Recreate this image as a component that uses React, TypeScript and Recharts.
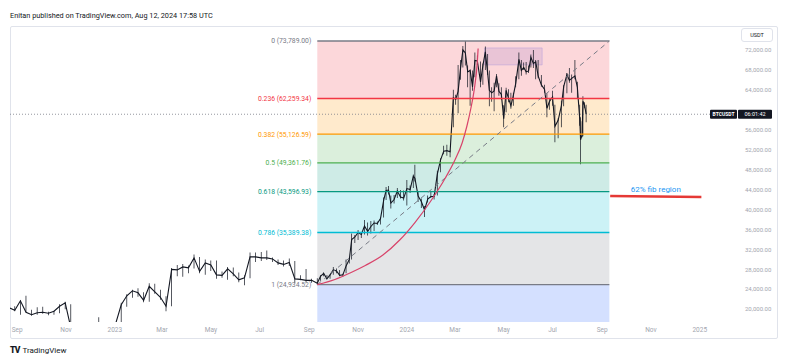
import React from "react";
import {
  Bar,
  ComposedChart,
  Line,
  ReferenceArea,
  ReferenceLine,
  XAxis,
  YAxis,
} from "recharts";

const DAY0 = Date.UTC(2023, 0, 1);
const toDay = (s: string) => (Date.parse(s + "T00:00:00Z") - DAY0) / 86400000;

// BTCUSDT (weekly to Sep 2023, then ~4 days)
const candleDates = [
  "2022-08-22", "2022-08-29", "2022-09-05", "2022-09-12", "2022-09-19", "2022-09-26", "2022-10-03", "2022-10-10", "2022-10-17", "2022-10-24",
  "2022-10-31", "2022-11-07", "2022-11-14", "2022-11-21", "2022-11-28", "2022-12-05", "2022-12-12", "2022-12-19", "2022-12-26", "2023-01-02",
  "2023-01-09", "2023-01-16", "2023-01-23", "2023-01-30", "2023-02-06", "2023-02-13", "2023-02-20", "2023-02-27", "2023-03-06", "2023-03-13",
  "2023-03-20", "2023-03-27", "2023-04-03", "2023-04-10", "2023-04-17", "2023-04-24", "2023-05-01", "2023-05-08", "2023-05-15", "2023-05-22",
  "2023-05-29", "2023-06-05", "2023-06-12", "2023-06-19", "2023-06-26", "2023-07-03", "2023-07-10", "2023-07-17", "2023-07-24", "2023-07-31",
  "2023-08-07", "2023-08-14", "2023-08-21", "2023-08-28", "2023-09-04", "2023-09-11", "2023-09-15", "2023-09-19", "2023-09-23", "2023-09-27",
  "2023-10-01", "2023-10-05", "2023-10-09", "2023-10-13", "2023-10-17", "2023-10-21", "2023-10-24", "2023-10-28", "2023-11-01", "2023-11-05",
  "2023-11-09", "2023-11-13", "2023-11-17", "2023-11-21", "2023-11-25", "2023-11-29", "2023-12-03", "2023-12-06", "2023-12-09", "2023-12-12",
  "2023-12-16", "2023-12-20", "2023-12-24", "2023-12-28", "2024-01-01", "2024-01-05", "2024-01-09", "2024-01-11", "2024-01-15", "2024-01-19",
  "2024-01-23", "2024-01-27", "2024-01-31", "2024-02-04", "2024-02-08", "2024-02-12", "2024-02-16", "2024-02-20", "2024-02-24", "2024-02-28",
  "2024-03-02", "2024-03-05", "2024-03-08", "2024-03-11", "2024-03-14", "2024-03-17", "2024-03-20", "2024-03-23", "2024-03-26", "2024-03-29",
  "2024-04-02", "2024-04-05", "2024-04-08", "2024-04-11", "2024-04-13", "2024-04-16", "2024-04-19", "2024-04-22", "2024-04-25", "2024-04-28",
  "2024-05-01", "2024-05-04", "2024-05-07", "2024-05-10", "2024-05-13", "2024-05-16", "2024-05-20", "2024-05-23", "2024-05-26", "2024-05-29",
  "2024-06-01", "2024-06-04", "2024-06-07", "2024-06-10", "2024-06-13", "2024-06-17", "2024-06-21", "2024-06-24", "2024-06-27", "2024-07-01",
  "2024-07-04", "2024-07-08", "2024-07-12", "2024-07-15", "2024-07-19", "2024-07-22", "2024-07-25", "2024-07-29", "2024-08-01", "2024-08-04",
  "2024-08-05", "2024-08-07", "2024-08-08", "2024-08-10", "2024-08-12",
];
const highs = [
  21800, 20600, 21800, 22700, 19900, 20400, 20500, 19500, 19700, 21000,
  21500, 21000, 17200, 16800, 17400, 17400, 18400, 17000, 16900, 17200,
  21300, 23000, 23900, 24200, 23400, 25200, 25100, 23900, 22600, 28300,
  28900, 29100, 28800, 31000, 30500, 30000, 29800, 29800, 27600, 28500,
  28400, 27400, 26800, 31400, 31400, 31500, 31800, 30400, 30000, 29800,
  30200, 29700, 26800, 28100, 26100, 26200, 26800, 27400, 26800, 27000,
  28500, 28200, 27900, 27100, 30000, 30300, 35200, 34900, 35900, 35300,
  37900, 37400, 37700, 37800, 37600, 38400, 42400, 44500, 44700, 42800,
  42900, 44300, 43900, 43800, 45900, 44800, 47000, 49000, 43500, 42200,
  40700, 42800, 43700, 43100, 47800, 50300, 52800, 53000, 51900, 64000,
  63000, 69000, 70000, 72800, 73800, 68900, 68100, 67900, 71500, 70900,
  69700, 69300, 72700, 71200, 67900, 64500, 65400, 67200, 65300, 64500,
  60900, 64400, 64100, 63400, 63400, 66700, 71500, 70000, 69500, 69600,
  68900, 71100, 72000, 70000, 70000, 67000, 65000, 63300, 62300, 63800,
  61000, 58300, 61800, 64900, 67400, 68400, 67100, 70000, 65600, 61000,
  58500, 57700, 62700, 61500, 61000,
];
const lows = [
  20100, 19600, 18900, 19400, 18700, 18900, 19100, 18800, 18900, 19200,
  20000, 15600, 16200, 15500, 16100, 16700, 16500, 16300, 16300, 16500,
  17100, 20500, 22300, 22500, 21400, 21500, 23100, 21900, 19600, 20600,
  26600, 26500, 27200, 28200, 27200, 26900, 27700, 26100, 26300, 25900,
  26600, 25400, 24800, 26200, 29500, 29700, 29900, 29500, 28900, 28600,
  28700, 25200, 25800, 25400, 25300, 24900, 25700, 26600, 26000, 26100,
  26900, 27200, 26600, 26500, 27200, 29200, 30000, 33300, 33900, 34300,
  35000, 34800, 35200, 35700, 36900, 37000, 38400, 41900, 43000, 40200,
  41200, 42300, 42200, 41800, 40800, 43300, 44300, 45600, 41500, 40300,
  38500, 41400, 42300, 42000, 42800, 47500, 51100, 50800, 50500, 56500,
  61000, 59300, 66000, 68500, 68900, 64500, 60800, 63800, 66500, 69000,
  64500, 65000, 68000, 67000, 60700, 61600, 59700, 64500, 62800, 62000,
  56500, 59500, 61500, 60200, 60800, 64500, 66100, 66800, 68000, 67100,
  67400, 68500, 68400, 66100, 66300, 64600, 63400, 58500, 60000, 60800,
  53500, 54300, 56500, 60700, 63300, 65400, 63400, 66100, 62300, 56800,
  49100, 54500, 54700, 60300, 57500,
];
const closes = [
  20300, 19800, 21700, 19400, 18900, 19300, 19400, 19200, 19600, 20600,
  21300, 16300, 16600, 16500, 17100, 17100, 16800, 16800, 16600, 17100,
  20900, 22700, 23700, 23300, 21800, 24600, 23500, 22400, 20600, 28000,
  27900, 28500, 28300, 30300, 27600, 29300, 28900, 26900, 26800, 28100,
  27100, 25900, 26300, 30500, 30500, 30300, 30300, 30100, 29300, 29000,
  29400, 26100, 26000, 25800, 25800, 25200, 26600, 27200, 26100, 26900,
  27900, 27700, 26800, 26900, 28700, 30000, 34000, 34500, 35400, 35000,
  36700, 35600, 36600, 37300, 37200, 38200, 41900, 43800, 43900, 41300,
  42000, 43700, 42500, 42300, 44200, 44000, 46700, 46300, 42700, 41600,
  39900, 42100, 42600, 42600, 47100, 49900, 51700, 51800, 51600, 62400,
  62100, 63700, 68300, 72000, 71400, 67600, 67900, 64600, 69900, 69800,
  65600, 68900, 71600, 67200, 63900, 63400, 63800, 66800, 63700, 63100,
  58200, 63900, 62300, 60800, 62900, 65300, 70100, 67900, 68500, 67600,
  67800, 70500, 69300, 69600, 66800, 65000, 64100, 60300, 61600, 62600,
  56700, 57900, 60800, 64700, 67100, 65900, 66300, 66800, 64500, 58100,
  54000, 55000, 61700, 60900, 59100,
];

// fib retracement drawn from the Sep 2023 low to the Mar 2024 high
const fibRatios = [0, 0.236, 0.382, 0.5, 0.618, 0.786, 1];
const fibPrices = [73789.0, 62259.34, 55126.59, 49361.76, 43596.93, 35389.38, 24934.52];
const fibColors = ["#787b86", "#f23645", "#ff9800", "#4caf50", "#089981", "#00bcd4", "#787b86"];
const fibExtColor = "#2962ff";
const fibStart = "2023-09-11";
const fibEnd = "2024-09-10";

// curved drawing
const arcDates = [
  "2023-09-11", "2023-10-03", "2023-10-22", "2023-11-10", "2023-12-02", "2023-12-23", "2024-01-11", "2024-01-30",
  "2024-02-18", "2024-03-01", "2024-03-10", "2024-03-16", "2024-03-21", "2024-03-25", "2024-03-29", "2024-03-30",
];
const arcPrices = [
  24934, 25970, 27280, 28780, 30880, 33890, 37400, 41510,
  46320, 49930, 53340, 56750, 60360, 63900, 69600, 72300,
];

// purple box and the "62% fib region" note
const boxDates = ["2024-04-07", "2024-06-18"];
const boxPrices = [69000, 72400];
const noteDates = ["2024-09-11", "2025-01-03"];
const notePrices = [42720, 42520];
const noteText = "62% fib region";

const lastPrice = 59107;
const symbol = "BTCUSDT";
const countdown = "06:01:42";

const monthTicks = [
  "2022-09-01", "2022-11-01", "2023-01-01", "2023-03-01", "2023-05-01", "2023-07-01", "2023-09-01", "2023-11-01",
  "2024-01-01", "2024-03-01", "2024-05-01", "2024-07-01", "2024-09-01", "2024-11-01", "2025-01-01",
];
const monthLabels = ["Sep", "Nov", "2023", "Mar", "May", "Jul", "Sep", "Nov", "2024", "Mar", "May", "Jul", "Sep", "Nov", "2025"];
const priceTicks = [20000, 24000, 28000, 32000, 36000, 40000, 44000, 48000, 52000, 56000, 64000, 68000, 72000];

const X_DOMAIN: [number, number] = [-131, 777.5];
const Y_DOMAIN: [number, number] = [17450, 76800];

const candles = candleDates.map((d, i) => ({
  t: toDay(d),
  close: closes[i],
  range: [lows[i], highs[i]],
}));
const arc = arcDates.map((d, i) => ({ t: toDay(d), p: arcPrices[i] }));
const xTicks = monthTicks.map(toDay);
const xLabel = (v: number) => monthLabels[xTicks.indexOf(v)] ?? "";
const fmt = (v: number) =>
  v.toLocaleString("en-US", { minimumFractionDigits: 2, maximumFractionDigits: 2 });

const fx1 = toDay(fibStart);
const fx2 = toDay(fibEnd);

function PriceTag(props: any) {
  const vb = props.viewBox;
  if (!vb) return null;
  const right = vb.x + vb.width;
  const y = vb.y;
  return (
    <g>
      <rect x={right - 27} y={y - 4.5} width={27} height={9} rx={1} fill="#131722" />
      <text x={right - 13.5} y={y} dy="0.35em" textAnchor="middle" fill="#fff" fontSize={5} fontWeight={700}>
        {symbol}
      </text>
      <rect x={right + 1} y={y - 4.5} width={34} height={9} rx={1} fill="#131722" />
      <text x={right + 18} y={y} dy="0.35em" textAnchor="middle" fill="#fff" fontSize={5.5}>
        {countdown}
      </text>
    </g>
  );
}

export default function App() {
  return (
    <div
      style={{
        position: "absolute",
        left: 0,
        top: 0,
        width: 787,
        height: 361,
        background: "#fff",
        fontFamily: "Roboto, sans-serif",
        overflow: "hidden",
      }}
    >
      <div style={{ position: "absolute", left: 10, top: 11, fontSize: 7.3, color: "#131722" }}>
        Enitan published on TradingView.com, Aug 12, 2024 17:58 UTC
      </div>
      <div
        style={{
          position: "absolute",
          left: 10,
          top: 26,
          width: 766,
          height: 311,
          border: "1px solid #e0e3eb",
          borderRadius: 2,
        }}
      />
      <div style={{ position: "absolute", left: 0, top: 0 }}>
        <ComposedChart
          width={787}
          height={361}
          data={candles}
          margin={{ top: 26, right: 10, bottom: 23, left: 10 }}
        >
          {fibPrices.slice(1).map((p, i) => (
            <ReferenceArea
              key={"z" + i}
              x1={fx1}
              x2={fx2}
              y1={fibPrices[i]}
              y2={p}
              fill={fibColors[i + 1]}
              fillOpacity={0.2}
              stroke="none"
              ifOverflow="hidden"
            />
          ))}
          <ReferenceArea
            x1={fx1}
            x2={fx2}
            y1={fibPrices[fibPrices.length - 1]}
            y2={Y_DOMAIN[0]}
            fill={fibExtColor}
            fillOpacity={0.2}
            stroke="none"
            ifOverflow="hidden"
          />
          <ReferenceArea
            x1={toDay(boxDates[0])}
            x2={toDay(boxDates[1])}
            y1={boxPrices[0]}
            y2={boxPrices[1]}
            fill="#7e57c2"
            fillOpacity={0.15}
            stroke="#b39ddb"
            strokeOpacity={0.6}
            strokeWidth={0.8}
            ifOverflow="hidden"
          />
          <XAxis
            dataKey="t"
            type="number"
            domain={X_DOMAIN}
            allowDataOverflow
            ticks={xTicks}
            interval={0}
            tickFormatter={xLabel}
            axisLine={false}
            tickLine={false}
            tickSize={3}
            tickMargin={2}
            height={16}
            tick={{ fill: "#a3a6af", fontSize: 6.5 }}
          />
          <YAxis
            orientation="right"
            type="number"
            domain={Y_DOMAIN}
            allowDataOverflow
            ticks={priceTicks}
            interval={0}
            tickFormatter={fmt}
            axisLine={false}
            tickLine={false}
            tickSize={4}
            tickMargin={4}
            width={40}
            tick={{ fill: "#a3a6af", fontSize: 6 }}
          />
          <ReferenceLine
            y={lastPrice}
            stroke="#787b86"
            strokeDasharray="1 2"
            strokeWidth={0.8}
            label={<PriceTag />}
          />
          <Bar dataKey="range" barSize={1} fill="#131722" isAnimationActive={false} />
          <Line
            dataKey="close"
            type="linear"
            stroke="#131722"
            strokeWidth={1.1}
            dot={false}
            isAnimationActive={false}
          />
          {fibPrices.map((p, i) => (
            <ReferenceLine
              key={"f" + i}
              segment={[
                { x: fx1, y: p },
                { x: fx2, y: p },
              ]}
              stroke={fibColors[i]}
              strokeWidth={1.4}
              label={{
                value: `${fibRatios[i]} (${fmt(p)})`,
                position: "left",
                offset: 6,
                fill: fibColors[i],
                fontSize: 6.8,
              }}
            />
          ))}
          <ReferenceLine
            segment={[
              { x: fx1, y: fibPrices[fibPrices.length - 1] },
              { x: fx2, y: fibPrices[0] },
            ]}
            stroke="#787b86"
            strokeDasharray="5 4"
            strokeWidth={1}
          />
          <Line
            data={arc}
            dataKey="p"
            type="monotone"
            stroke="#d8436a"
            strokeWidth={1.2}
            dot={false}
            isAnimationActive={false}
          />
          <ReferenceLine
            segment={[
              { x: toDay(noteDates[0]), y: notePrices[0] },
              { x: toDay(noteDates[1]), y: notePrices[1] },
            ]}
            stroke="#e53935"
            strokeWidth={2.4}
            ifOverflow="visible"
            label={{ value: noteText, position: "top", offset: 4, fill: "#2196f3", fontSize: 8 }}
          />
        </ComposedChart>
      </div>
      <div
        style={{
          position: "absolute",
          left: 741,
          top: 28,
          width: 30,
          height: 12,
          border: "1px solid #e0e3eb",
          borderRadius: 3,
          fontSize: 5.5,
          lineHeight: "12px",
          textAlign: "center",
          color: "#131722",
        }}
      >
        USDT
      </div>
      <div
        style={{
          position: "absolute",
          left: 10,
          top: 345,
          fontSize: 8,
          color: "#131722",
          display: "flex",
          alignItems: "center",
          gap: 3,
        }}
      >
        <span style={{ fontWeight: 900, letterSpacing: -0.8, fontSize: 8.5 }}>TV</span>
        <span>TradingView</span>
      </div>
    </div>
  );
}
